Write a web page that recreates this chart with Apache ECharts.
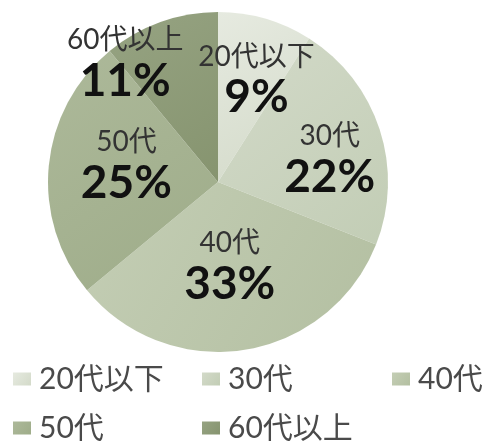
<!DOCTYPE html>
<html><head><meta charset="utf-8">
<script src="https://cdn.jsdelivr.net/npm/echarts@6/dist/echarts.min.js"></script>
<style>html,body{margin:0;padding:0;background:#fff}#c{width:486px;height:443px}</style>
</head><body><div id="c"></div>
<script>
const categories = ['20代以下', '30代', '40代', '50代', '60代以上'];
const shares = [9, 22, 33, 25, 11];

const sliceColors = [
  ['#e6eae0', '#d3dac9'],
  ['#d3dac9', '#c2cdb5'],
  ['#c4ceb5', '#b3bfa1'],
  ['#adb99a', '#9eac89'],
  ['#96a382', '#86946f']
];
// label nudges relative to default inside position
const labelNudge = [[14, -17], [28, 5], [-2, -2], [-4, -8], [-63, -35]];

const FONT = "Lato, 'Noto Sans CJK JP', sans-serif";

function grad(c) {
  return new echarts.graphic.LinearGradient(0, 0, 1, 1, [
    { offset: 0, color: c[0] }, { offset: 1, color: c[1] }
  ]);
}

const chart = echarts.init(document.getElementById('c'));
const data = categories.map((n, i) => ({
  name: n, value: shares[i],
  itemStyle: { color: grad(sliceColors[i]) },
  label: { offset: labelNudge[i] }
}));

const legendBase = {
  orient: 'vertical', top: 364, height: 120, itemWidth: 18, itemHeight: 13, itemGap: 19,
  icon: 'rect', padding: 0,
  textStyle: { fontFamily: FONT, fontSize: 30, color: '#4a4a4a', lineHeight: 30, padding: [0, 0, 0, 3] }
};

chart.setOption({
  animation: false,
  legend: [
    Object.assign({}, legendBase, { left: 13, data: [categories[0], categories[3]] }),
    Object.assign({}, legendBase, { left: 202, data: [categories[1], categories[4]] }),
    Object.assign({}, legendBase, { left: 392, data: [categories[2]] })
  ],
  series: [{
    type: 'pie',
    center: [218, 182],
    radius: 170,
    startAngle: 90,
    clockwise: true,
    data: data,
    itemStyle: { borderWidth: 0 },
    label: {
      show: true, position: 'inside',
      formatter: '{n|{b}}\n{p|{c}%}',
      rich: {
        n: { fontFamily: FONT, fontSize: 28, color: '#333', lineHeight: 34, align: 'center' },
        p: { fontFamily: FONT, fontSize: 46, fontWeight: 'bold', color: '#111', lineHeight: 48, align: 'center' }
      }
    },
    labelLine: { show: false },
    emphasis: { disabled: true }
  }]
});
</script></body></html>
